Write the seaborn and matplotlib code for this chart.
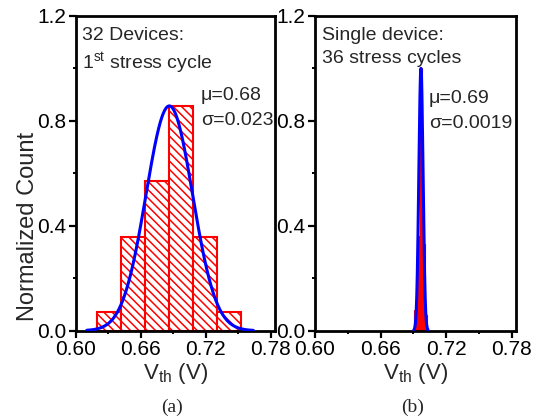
import matplotlib
matplotlib.use("Agg")
import matplotlib.pyplot as plt
from matplotlib.ticker import MultipleLocator, FormatStrFormatter
import numpy as np
import pandas as pd
import seaborn as sns

# ---- data ----
bin_centers_a = [0.6306, 0.6528, 0.6750, 0.6972, 0.7194, 0.7416]
bin_heights_a = [0.071, 0.357, 0.571, 0.857, 0.357, 0.071]
bin_width_a = 0.0222
fit_a = dict(mu=0.6863, sigma=0.0215, amp=0.857, lo=0.6100, hi=0.7640)

bin_centers_b = [0.6922, 0.6946, 0.6970, 0.6994, 0.7018]
bin_heights_b = [0.08, 0.36, 1.00, 0.33, 0.06]
bin_width_b = 0.0024
fit_b = dict(mu=0.6970, sigma=0.0019, amp=1.00, lo=0.6905, hi=0.7035)

x_ticks = [0.60, 0.66, 0.72, 0.78]
y_ticks = [0.0, 0.4, 0.8, 1.2]

sns.set_theme(style="ticks")
plt.rcParams["font.family"] = ["Liberation Sans", "DejaVu Sans"]
plt.rcParams["mathtext.fontset"] = "custom"
plt.rcParams["mathtext.rm"] = "Liberation Sans"
plt.rcParams["mathtext.it"] = "Liberation Sans:italic"
plt.rcParams["hatch.linewidth"] = 1.1

fig = plt.figure(figsize=(5.4, 4.18), dpi=100)
ax1 = fig.add_axes([0.1407, 0.2089, 0.3685, 0.7529])
ax2 = fig.add_axes([0.5833, 0.2089, 0.3722, 0.7529])


def gauss_frame(p, n=400):
    x = np.linspace(p["lo"], p["hi"], n)
    y = p["amp"] * np.exp(-0.5 * ((x - p["mu"]) / p["sigma"]) ** 2)
    return pd.DataFrame({"x": x, "y": y})


# panel (a)
ax1.bar(bin_centers_a, bin_heights_a, width=bin_width_a, facecolor="white",
        edgecolor="red", linewidth=1.5, hatch="\\\\\\\\", zorder=2)
sns.lineplot(data=gauss_frame(fit_a), x="x", y="y", ax=ax1, color="#0000ff",
             linewidth=2.2, zorder=3)

# panel (b)
ax2.bar(bin_centers_b, bin_heights_b, width=bin_width_b, facecolor="red",
        edgecolor="red", linewidth=0.8, zorder=2)
sns.lineplot(data=gauss_frame(fit_b), x="x", y="y", ax=ax2, color="#0000ff",
             linewidth=2.2, zorder=3)

for ax in (ax1, ax2):
    ax.set_xlim(0.60, 0.784)
    ax.set_ylim(0.0, 1.2)
    ax.set_xticks(x_ticks)
    ax.set_yticks(y_ticks)
    ax.xaxis.set_minor_locator(MultipleLocator(0.03))
    ax.yaxis.set_minor_locator(MultipleLocator(0.2))
    ax.xaxis.set_major_formatter(FormatStrFormatter("%.2f"))
    ax.yaxis.set_major_formatter(FormatStrFormatter("%.1f"))
    ax.tick_params(which="major", direction="out", length=5, width=1.6,
                   labelsize=15, color="black", labelcolor="black", pad=2)
    ax.tick_params(which="minor", direction="out", length=2.5, width=1.4,
                   color="black")
    for s in ax.spines.values():
        s.set_visible(True)
        s.set_linewidth(2.0)
        s.set_color("black")
    ax.set_xlabel(r"V$_{\rm th}$ (V)", fontsize=16, labelpad=1)
    ax.set_ylabel("")

ax1.set_ylabel("Normalized Count", fontsize=17)
ax1.yaxis.set_label_coords(-0.185, 0.33)

ax1.text(0.6056, 1.107, "32 Devices:", fontsize=14, va="baseline", ha="left")
ax1.text(0.6056, 0.999, r"1$^{\rm st}$ stress cycle", fontsize=14,
         va="baseline", ha="left")
ax1.text(0.7155, 0.881, "μ=0.68", fontsize=14, va="baseline", ha="left")
ax1.text(0.7155, 0.786, "σ=0.023", fontsize=14, va="baseline", ha="left")

ax2.text(0.6061, 1.108, "Single device:", fontsize=14, va="baseline", ha="left")
ax2.text(0.6061, 1.019, "36 stress cycles", fontsize=14, va="baseline", ha="left")
ax2.text(0.7041, 0.869, "μ=0.69", fontsize=14, va="baseline", ha="left")
ax2.text(0.7041, 0.773, "σ=0.0019", fontsize=14, va="baseline", ha="left")

fig.text(171.7 / 540, 1 - 412 / 418, "(a)", fontsize=14, ha="center",
         va="baseline", family=["Liberation Serif"])
fig.text(413 / 540, 1 - 412 / 418, "(b)", fontsize=14, ha="center",
         va="baseline", family=["Liberation Serif"])

fig.savefig("out.png", dpi=100)
